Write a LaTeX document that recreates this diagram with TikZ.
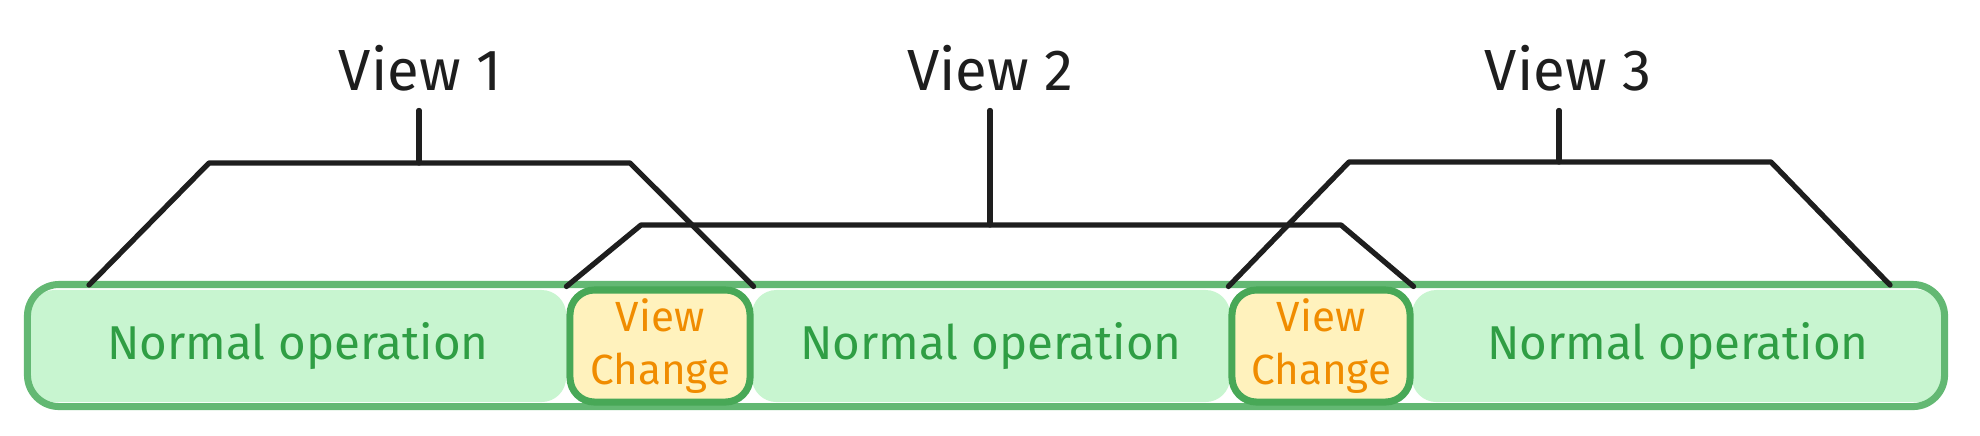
\documentclass[tikz,border=0pt]{standalone}
\usepackage{fontspec}
\setmainfont{Fira Sans}
\usetikzlibrary{positioning,calc}
\definecolor{inkc}{RGB}{30,30,30}
\definecolor{opfill}{RGB}{200,245,208}
\definecolor{opline}{RGB}{99,184,115}
\definecolor{optext}{RGB}{47,158,68}
\definecolor{vcfill}{RGB}{255,242,189}
\definecolor{vcline}{RGB}{72,168,87}
\definecolor{vctext}{RGB}{240,140,0}

\begin{document}
\begin{tikzpicture}[x=0.01cm,y=-0.01cm,
  opbox/.style={fill=opfill,rounded corners=7pt,minimum height=1.12cm,inner sep=0pt,text=optext,font=\fontsize{13.5}{16}\selectfont},
  vcbox/.style={fill=vcfill,draw=vcline,line width=2pt,rounded corners=7pt,minimum height=1.12cm,inner sep=0pt,text=vctext,align=center,font=\fontsize{12}{15}\selectfont},
  bracket/.style={draw=inkc,line width=1.5pt,line cap=round,line join=round},
  viewlbl/.style={text=inkc,font=\fontsize{16.5}{19}\selectfont}]
  \useasboundingbox (0,0) rectangle (1980,435);
  % timeline
  \node[opbox,minimum width=5.36cm] (norm1) at (298,346) {Normal operation};
  \node[opbox,minimum width=4.78cm] (norm2) at (991,346) {Normal operation};
  \node[opbox,minimum width=5.32cm] (norm3) at (1678,346) {Normal operation};
  \node[draw=opline,line width=2pt,rounded corners=9pt,minimum width=19.16cm,minimum height=1.22cm] (bar) at (986,345.5) {};
  \node[vcbox,minimum width=1.80cm] (vc1) at (660,346) {View\\Change};
  \node[vcbox,minimum width=1.78cm] (vc2) at (1321,346) {View\\Change};
  % views
  \node[viewlbl] (v1) at (420,68) {View 1};
  \node[viewlbl] (v2) at (990,68) {View 2};
  \node[viewlbl] (v3) at (1568,68) {View 3};
  \coordinate (f1) at (89,285);
  \coordinate (f3) at (1890,285);
  \coordinate (b1l) at (209,163); \coordinate (b1r) at (630,163); \coordinate (b1m) at (419,163);
  \coordinate (b2l) at (641,225); \coordinate (b2r) at (1341,225); \coordinate (b2m) at (990,225);
  \coordinate (b3l) at (1349,162); \coordinate (b3r) at (1771,162); \coordinate (b3m) at (1559,162);
  \draw[bracket] (f1) -- (b1l) -- (b1r) -- (vc1.north east);
  \draw[bracket] (vc1.north west) -- (b2l) -- (b2r) -- (vc2.north east);
  \draw[bracket] (vc2.north west) -- (b3l) -- (b3r) -- (f3);
  \foreach \k in {1,2,3} {\draw[bracket,shorten >=2pt] (b\k m) -- (b\k m |- v\k.south);}
\end{tikzpicture}
\end{document}
